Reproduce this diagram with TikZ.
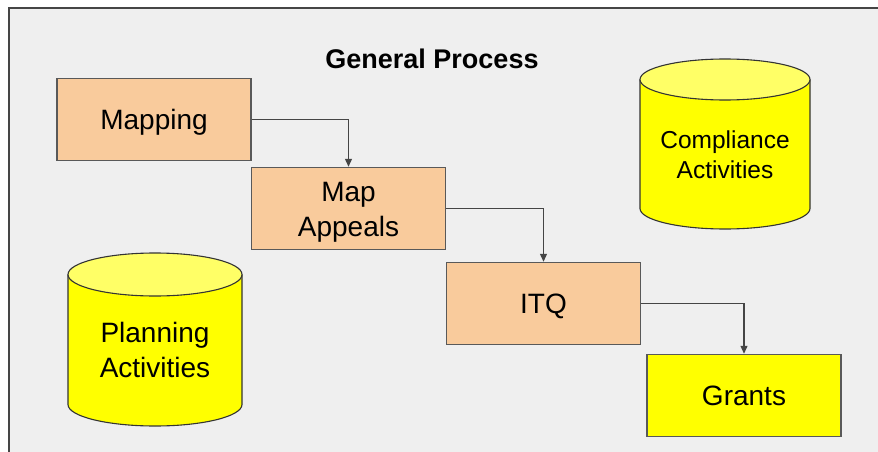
\documentclass[tikz,border=0pt]{standalone}
\usepackage{fontspec}
\setmainfont{Liberation Sans}
\usetikzlibrary{arrows.meta}
\definecolor{panel}{HTML}{EFEFEF}
\definecolor{frameline}{HTML}{454545}
\definecolor{peach}{HTML}{F9CB9C}
\definecolor{boxline}{HTML}{595959}
\definecolor{storeyellow}{HTML}{FFFF00}
\definecolor{lightyellow}{HTML}{FFFF66}
\begin{document}
\begin{tikzpicture}[x=1pt,y=-1pt,
  procbox/.style={draw=boxline, line width=1.5pt, fill=peach, minimum width=194pt, minimum height=82pt,
    inner sep=0pt, align=center, text height=20pt, text depth=0pt, font=\fontsize{28}{35}\selectfont},
  grantbox/.style={procbox, fill=storeyellow},
  storetext/.style={align=center, inner sep=0pt, text depth=0pt},
  flow/.style={draw=frameline, line width=1.3pt, -{Triangle[length=8pt,width=7pt]}}]
  \useasboundingbox (0,0) rectangle (878,452);
  \fill[panel] (9,8) rectangle (878,452);
  \draw[frameline, line width=1.5pt] (9,452) -- (9,8) -- (878,8);
  \node[font=\bfseries\fontsize{27}{30}\selectfont, text height=19.3pt, text depth=0pt, inner sep=0pt] (title) at (432,58.8) {General Process};
  % process chain
  \node[procbox] (mapping) at (154,119.5) {Mapping};
  \node[procbox, text height=55pt] (appeals) at (348.5,208.5) {Map\\Appeals};
  \node[procbox] (itq) at (543.5,303.5) {ITQ};
  \node[grantbox] (grants) at (744,395.5) {Grants};
  \draw[flow] (mapping.east) -| (appeals.north);
  \draw[flow] (appeals.east) -| (itq.north);
  \draw[flow] (itq.east) -| (grants.north);
  % activity stores: centre x / top y / bottom y / x radius / y radius
  \foreach \cx/\ty/\by/\rx/\ry in {725/79.5/208.5/85/20.5, 155/274.5/404.5/87/21.5} {
    \fill[storeyellow] (\cx-\rx,\ty) rectangle (\cx+\rx,\by);
    \filldraw[fill=storeyellow, draw=black!80, line width=1.1pt] (\cx-\rx,\ty) -- (\cx-\rx,\by)
      arc[start angle=180, end angle=360, x radius=\rx pt, y radius=\ry pt] -- (\cx+\rx,\ty);
    \filldraw[fill=lightyellow, draw=black!80, line width=1.1pt] (\cx,\ty) ellipse[x radius=\rx pt, y radius=\ry pt];
  }
  \node[storetext, text height=47.5pt, font=\fontsize{24.5}{30}\selectfont] (compliance) at (725,155) {Compliance\\Activities};
  \node[storetext, text height=55pt, font=\fontsize{28}{35}\selectfont] (planning) at (155,350) {Planning\\Activities};
\end{tikzpicture}
\end{document}
